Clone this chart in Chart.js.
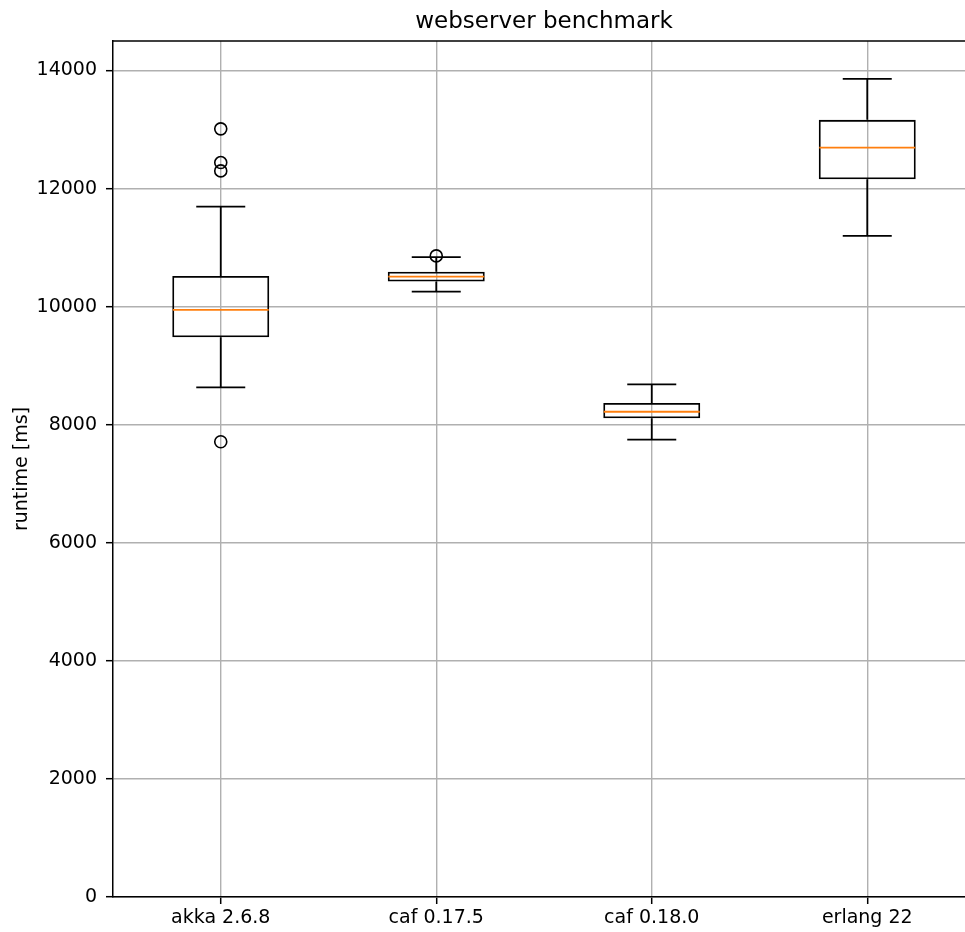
<!DOCTYPE html>
<html><head><meta charset="utf-8">
<script src="https://cdn.jsdelivr.net/npm/chart.js@4"></script>
<style>html,body{margin:0;padding:0;overflow:hidden;background:#fff}#wrap{width:980px;height:932px;position:relative}</style>
</head><body><div id="wrap"><canvas id="c" width="980" height="932" style="width:980px;height:932px;display:block"></canvas></div>
<script>
const categories = ['akka 2.6.8', 'caf 0.17.5', 'caf 0.18.0', 'erlang 22'];
const whiskerLow = [8634, 10254, 7746, 11198];
const q1 = [9481, 10424, 8108, 12159];
const median = [9944, 10508, 8220, 12695];
const q3 = [10520, 10593, 8368, 13164];
const whiskerHigh = [11695, 10840, 8685, 13859];
const outliers = [[7712, 12300, 12441, 13012], [10860], [], []];
const yTicks = [0, 2000, 4000, 6000, 8000, 10000, 12000, 14000];

Chart.defaults.font.family = "'DejaVu Sans', sans-serif";
Chart.defaults.color = '#000';

const whiskerData = [];
categories.forEach((c, i) => {
  whiskerData.push({x: c, y: whiskerLow[i]}, {x: c, y: q1[i]}, {x: c, y: null},
                   {x: c, y: q3[i]}, {x: c, y: whiskerHigh[i]}, {x: c, y: null});
});
const capData = [];
categories.forEach((c, i) => { capData.push({x: c, y: whiskerLow[i]}, {x: c, y: whiskerHigh[i]}); });
const outlierData = [];
categories.forEach((c, i) => outliers[i].forEach(v => outlierData.push({x: c, y: v})));

const topSpine = {
  id: 'topSpine',
  afterDatasetsDraw(chart) {
    const {ctx, chartArea: a} = chart;
    ctx.save();
    ctx.strokeStyle = '#000';
    ctx.lineWidth = 1.5;
    ctx.beginPath();
    ctx.moveTo(a.left, a.top);
    ctx.lineTo(a.right, a.top);
    ctx.stroke();
    ctx.restore();
  }
};

new Chart(document.getElementById('c'), {
  type: 'bar',
  data: {
    labels: categories,
    datasets: [
      {
        type: 'line', label: 'whiskers', data: whiskerData, borderColor: '#000', borderWidth: 1.8,
        pointRadius: 0, spanGaps: false, order: 4
      },
      {
        type: 'bar', label: 'box', data: categories.map((c, i) => [q1[i], q3[i]]),
        backgroundColor: 'rgba(0,0,0,0)', borderColor: '#000', borderWidth: 1.8, borderSkipped: false,
        barPercentage: 0.45, categoryPercentage: 1, grouped: false, order: 3
      },
      {
        type: 'line', label: 'caps', data: capData, showLine: false, pointStyle: 'line',
        pointRadius: 24.5, pointBorderWidth: 1.8, pointBorderColor: '#000', order: 2
      },
      {
        type: 'line', label: 'median', data: categories.map((c, i) => ({x: c, y: median[i]})), showLine: false,
        pointStyle: 'line', pointRadius: 48, pointBorderWidth: 1.8, pointBorderColor: '#ff7f0e', order: 1
      },
      {
        type: 'line', label: 'outliers', data: outlierData, showLine: false, pointStyle: 'circle',
        pointRadius: 6, pointBorderWidth: 1.6, pointBorderColor: '#000', pointBackgroundColor: 'rgba(0,0,0,0)', order: 0
      }
    ]
  },
  options: {
    responsive: false,
    maintainAspectRatio: false,
    animation: false,
    events: [],
    layout: {autoPadding: false, padding: {left: 0, right: 5, top: 0, bottom: 0}},
    plugins: {
      legend: {display: false},
      tooltip: {enabled: false},
      title: {
        display: true, text: 'webserver benchmark', fullSize: false,
        font: {size: 23, weight: 'normal', lineHeight: 1.2}, color: '#000', padding: {top: 8, bottom: 5.4}
      }
    },
    scales: {
      x: {
        type: 'category',
        offset: true,
        grid: {display: true, offset: false, color: '#b0b0b0', lineWidth: 1.4, tickColor: '#000', tickLength: 7, tickWidth: 1.5},
        border: {display: true, color: '#000', width: 1.5},
        ticks: {font: {size: 19}, padding: 3, color: '#000'},
        afterFit(s) { s.height = 35; }
      },
      y: {
        type: 'linear', min: 0, max: 14500,
        afterBuildTicks(s) { s.ticks = yTicks.map(v => ({value: v})); },
        grid: {color: '#b0b0b0', lineWidth: 1.4, tickColor: '#000', tickLength: 7, tickWidth: 1.5},
        border: {display: true, color: '#000', width: 1.5},
        ticks: {font: {size: 19}, padding: 9, color: '#000', callback: v => String(v)},
        title: {display: true, text: 'runtime [ms]', font: {size: 19}, color: '#000', padding: {top: 10.5, bottom: 0}},
        afterFit(s) { s.width = 113; }
      }
    }
  },
  plugins: [topSpine]
});
</script>
</body></html>
